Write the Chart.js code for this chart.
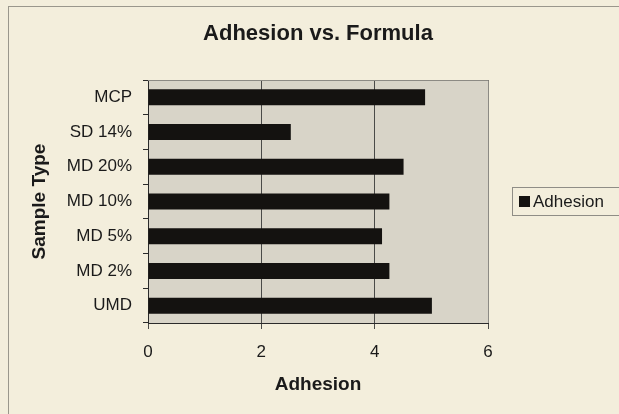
<!DOCTYPE html>
<html>
<head>
<meta charset="utf-8">
<script src="https://cdn.jsdelivr.net/npm/chart.js@4.4.1/dist/chart.umd.min.js"></script>
<style>
  body { margin: 0; background: #f3eedc; }
  canvas { display: block; }
</style>
</head>
<body>
<canvas id="chart" width="619" height="414"></canvas>
<script>
"use strict";

const sampleTypes = ["MCP", "SD 14%", "MD 20%", "MD 10%", "MD 5%", "MD 2%", "UMD"];
const adhesionValues = [4.89, 2.52, 4.51, 4.26, 4.13, 4.26, 5.01];
const xTicks = [0, 2, 4, 6];

{
  const font = "'Liberation Sans', Arial, sans-serif";
  const pageColor = "#f3eedc";
  const plotColor = "#d8d4c8";

  // background, plot fill, outer frame and the legend box
  const excelLook = {
    id: "excelLook",
    beforeDraw(chart) {
      const { ctx, chartArea: a } = chart;
      ctx.save();
      ctx.fillStyle = pageColor;
      ctx.fillRect(0, 0, chart.width, chart.height);
      ctx.fillStyle = plotColor;
      ctx.fillRect(a.left, a.top, a.right - a.left, a.bottom - a.top);
      ctx.strokeStyle = "#9a978c";
      ctx.lineWidth = 1;
      ctx.strokeRect(8.5, 6.5, chart.width + 20, chart.height + 20);
      ctx.restore();
    },
    afterDraw(chart) {
      const { ctx, chartArea: a } = chart;
      ctx.save();
      ctx.strokeStyle = "#8c8a84";
      ctx.lineWidth = 1;
      ctx.beginPath();
      ctx.moveTo(a.left, a.top + 0.5);
      ctx.lineTo(a.right + 0.5, a.top + 0.5);
      ctx.lineTo(a.right + 0.5, a.bottom);
      ctx.stroke();

      // legend
      const ds = chart.data.datasets[0];
      ctx.strokeStyle = "#8f8d86";
      ctx.strokeRect(512.5, 187.5, 140, 28);
      ctx.fillStyle = ds.backgroundColor;
      ctx.fillRect(519, 196, 11, 11);
      ctx.fillStyle = "#1a1a1a";
      ctx.font = "17px " + font;
      ctx.textBaseline = "middle";
      ctx.fillText(ds.label, 533, 202);
      ctx.restore();
    }
  };

  const ctx = document.getElementById("chart");
  new Chart(ctx, {
    type: "bar",
    data: {
      labels: sampleTypes,
      datasets: [
        {
          label: "Adhesion",
          data: adhesionValues,
          backgroundColor: "#141210",
          barPercentage: 0.46,
          categoryPercentage: 1
        }
      ]
    },
    options: {
      indexAxis: "y",
      responsive: false,
      animation: false,
      devicePixelRatio: 1,
      layout: { padding: { left: 0, right: 131, top: 0, bottom: 0 } },
      plugins: {
        legend: { display: false },
        tooltip: { enabled: false },
        title: {
          display: true,
          text: "Adhesion vs. Formula",
          fullSize: false,
          color: "#1a1a1a",
          font: { family: font, size: 22, weight: "bold" },
          padding: { top: 21, bottom: 32.6 }
        }
      },
      scales: {
        x: {
          min: 0,
          max: 6,
          afterBuildTicks(scale) {
            scale.ticks = xTicks.map((v) => ({ value: v }));
          },
          afterFit(scale) {
            scale.height = 91;
          },
          border: { color: "#2a2a2a", width: 1 },
          grid: {
            color: "#4a4a48",
            lineWidth: 1,
            tickLength: 6,
            drawOnChartArea: true
          },
          ticks: {
            color: "#1a1a1a",
            padding: 13,
            font: { family: font, size: 17 }
          },
          title: {
            display: true,
            text: "Adhesion",
            color: "#1a1a1a",
            font: { family: font, size: 19, weight: "bold" },
            padding: { top: 0, bottom: 17.6 }
          }
        },
        y: {
          afterFit(scale) {
            scale.width = 148;
          },
          border: { color: "#2a2a2a", width: 1 },
          grid: {
            color: "#2a2a2a",
            tickLength: 5,
            drawOnChartArea: false
          },
          ticks: {
            color: "#1a1a1a",
            padding: 11,
            font: { family: font, size: 17 }
          },
          title: {
            display: true,
            text: "Sample Type",
            color: "#1a1a1a",
            font: { family: font, size: 19, weight: "bold" },
            padding: { top: 28, bottom: 0 }
          }
        }
      }
    },
    plugins: [excelLook]
  });
}
</script>
</body>
</html>
